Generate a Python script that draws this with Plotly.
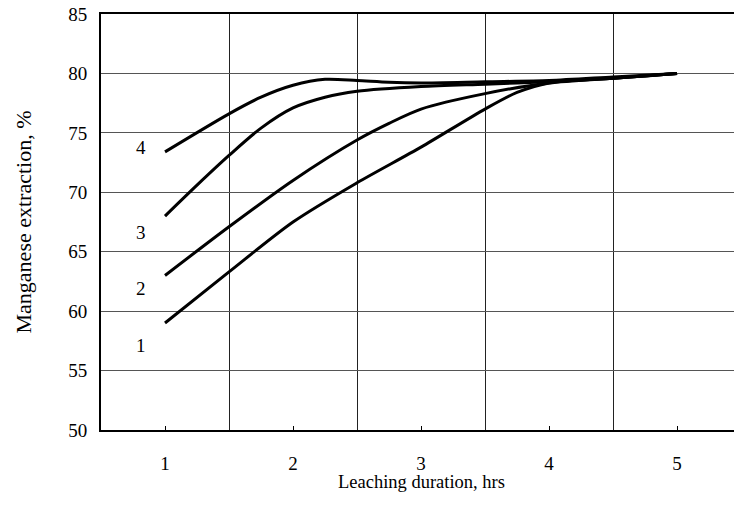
import plotly.graph_objects as go

# Leaching duration (hrs) and manganese extraction (%) for four curves
x1 = [1, 1.5, 2, 2.5, 3, 3.5, 3.75, 4, 4.5, 5]
y1 = [59.0, 63.3, 67.5, 70.8, 73.8, 77.0, 78.4, 79.2, 79.6, 80.0]

x2 = [1, 1.5, 2, 2.5, 2.75, 3, 3.5, 4, 4.5, 5]
y2 = [63.0, 67.1, 71.0, 74.4, 75.8, 77.0, 78.3, 79.2, 79.6, 80.0]

x3 = [1, 1.25, 1.5, 1.75, 2, 2.25, 2.5, 3, 3.5, 4, 4.5, 5]
y3 = [68.0, 70.6, 73.1, 75.4, 77.1, 78.0, 78.5, 78.9, 79.1, 79.3, 79.6, 80.0]

x4 = [1, 1.5, 1.75, 2, 2.25, 2.5, 2.75, 3, 3.5, 4, 4.5, 5]
y4 = [73.4, 76.6, 78.0, 79.0, 79.5, 79.4, 79.25, 79.2, 79.3, 79.4, 79.7, 80.0]

curve_labels = ["1", "2", "3", "4"]
label_x = [0.81, 0.81, 0.81, 0.81]
label_y = [57.1, 61.9, 66.6, 73.8]

x_ticks = [1, 2, 3, 4, 5]
y_ticks = [50, 55, 60, 65, 70, 75, 80, 85]

FONT = "Liberation Serif, Times New Roman, serif"

fig = go.Figure()
for xs, ys in [(x1, y1), (x2, y2), (x3, y3), (x4, y4)]:
    fig.add_trace(go.Scatter(x=xs, y=ys, mode="lines",
                             line=dict(color="black", width=3, shape="spline", smoothing=0.8),
                             showlegend=False, hoverinfo="skip"))

for t, lx, ly in zip(curve_labels, label_x, label_y):
    fig.add_annotation(x=lx, y=ly, text=t, showarrow=False,
                       font=dict(family=FONT, size=19, color="black"))

fig.add_annotation(x=3, xref="x", y=-0.125, yref="paper", yanchor="middle",
                   text="Leaching duration, hrs", showarrow=False,
                   font=dict(family=FONT, size=18.5, color="black"))

fig.update_layout(
    width=734, height=524,
    margin=dict(l=101, r=0, t=14, b=94),
    paper_bgcolor="white", plot_bgcolor="white",
    font=dict(family=FONT, size=19, color="black"),
    xaxis=dict(range=[0.5, 5.445], tickvals=x_ticks, ticktext=[str(v) for v in x_ticks],
               showgrid=False, zeroline=False, automargin=False,
               ticks="inside", ticklen=4, tickwidth=1, tickcolor="black",
               ticklabelstandoff=15,
               showline=True, linecolor="black", linewidth=2, mirror=True,
               minor=dict(tick0=0.5, dtick=1, showgrid=True, gridcolor="#222",
                          gridwidth=1, ticks="")),
    yaxis=dict(range=[50, 85], tickvals=y_ticks, ticktext=[str(v) for v in y_ticks],
               showgrid=True, gridcolor="#555", gridwidth=1.2, zeroline=False,
               automargin=False,
               ticks="", ticklabelstandoff=8,
               showline=True, linecolor="black", linewidth=2,
               title=dict(text="Manganese extraction, %", standoff=31,
                          font=dict(family=FONT, size=22, color="black"))),
)

fig.write_html("out.html", config={"displayModeBar": False},
               post_script="document.body.style.margin='0';document.body.style.padding='0';")
